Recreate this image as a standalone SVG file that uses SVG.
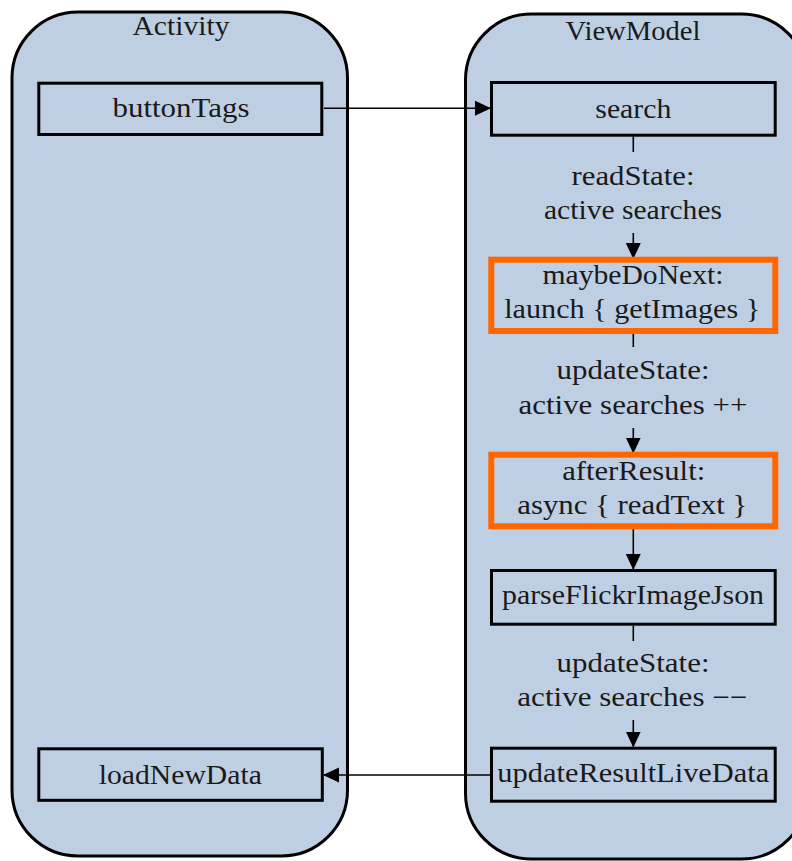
<svg xmlns="http://www.w3.org/2000/svg" width="792" height="861" viewBox="0 0 792 861">
  <style>
    .lane { fill: #BFCFE3; stroke: #000; stroke-width: 3; }
    .box { fill: none; stroke: #000; stroke-width: 3; }
    .hot { fill: none; stroke: #FF6600; stroke-width: 6; }
    .t { font-family: "Liberation Serif", "Times New Roman", serif; font-size: 27px; fill: #1a1a1a; text-anchor: middle; }
    .edge { fill: none; stroke: #000; stroke-width: 1.6; }
  </style>
  <defs>
    <marker id="arrow" viewBox="0 0 16 16" refX="15" refY="8" markerWidth="16" markerHeight="16" markerUnits="userSpaceOnUse" orient="auto">
      <path d="M0,0.5 L16,8 L0,15.5 Z" fill="#000"/>
    </marker>
  </defs>
  <rect width="792" height="861" fill="#fff"/>

  <!-- swimlanes -->
  <g id="lane-activity">
    <rect class="lane" x="12" y="12" width="335.5" height="844" rx="66" ry="66"/>
    <text class="t" x="181" y="35" textLength="97" lengthAdjust="spacingAndGlyphs">Activity</text>
  </g>
  <g id="lane-viewmodel">
    <rect class="lane" x="465.5" y="14" width="342" height="845" rx="66" ry="66"/>
    <text class="t" x="633" y="40" textLength="135" lengthAdjust="spacingAndGlyphs">ViewModel</text>
  </g>

  <!-- connectors -->
  <g id="connectors">
    <line class="edge" x1="324" y1="108.3" x2="490" y2="108.3" marker-end="url(#arrow)"/>
    <line class="edge" x1="633.3" y1="136" x2="633.3" y2="152"/>
    <line class="edge" x1="633.3" y1="233" x2="633.3" y2="258" marker-end="url(#arrow)"/>
    <line class="edge" x1="633.3" y1="334" x2="633.3" y2="347"/>
    <line class="edge" x1="633.3" y1="428" x2="633.3" y2="452.5" marker-end="url(#arrow)"/>
    <line class="edge" x1="633.3" y1="529" x2="633.3" y2="569" marker-end="url(#arrow)"/>
    <line class="edge" x1="633.3" y1="626" x2="633.3" y2="641"/>
    <line class="edge" x1="633.3" y1="720" x2="633.3" y2="746.5" marker-end="url(#arrow)"/>
    <line class="edge" x1="490" y1="775" x2="324" y2="775" marker-end="url(#arrow)"/>
    <text class="t" x="633" y="185" textLength="123" lengthAdjust="spacingAndGlyphs">readState:</text>
    <text class="t" x="633" y="218.5" textLength="178" lengthAdjust="spacingAndGlyphs">active searches</text>
    <text class="t" x="633" y="378.5" textLength="153" lengthAdjust="spacingAndGlyphs">updateState:</text>
    <text class="t" x="633" y="413.5" textLength="229" lengthAdjust="spacingAndGlyphs">active searches ++</text>
    <text class="t" x="633" y="671.5" textLength="153" lengthAdjust="spacingAndGlyphs">updateState:</text>
    <text class="t" x="632.3" y="706" textLength="230" lengthAdjust="spacingAndGlyphs">active searches −−</text>
  </g>

  <!-- nodes -->
  <g id="node-buttonTags">
    <rect class="box" x="38.8" y="83.2" width="283" height="51.3"/>
    <text class="t" x="181" y="117" textLength="137" lengthAdjust="spacingAndGlyphs">buttonTags</text>
  </g>
  <g id="node-loadNewData">
    <rect class="box" x="38.8" y="748.8" width="283.5" height="51.5"/>
    <text class="t" x="180.3" y="784" textLength="163" lengthAdjust="spacingAndGlyphs">loadNewData</text>
  </g>
  <g id="node-search">
    <rect class="box" x="491.5" y="82.5" width="283.7" height="52.7"/>
    <text class="t" x="633.3" y="118" textLength="76" lengthAdjust="spacingAndGlyphs">search</text>
  </g>
  <g id="node-maybeDoNext">
    <rect class="hot" x="491.3" y="259.7" width="284" height="71.3"/>
    <text class="t" x="633" y="284" textLength="181" lengthAdjust="spacingAndGlyphs">maybeDoNext:</text>
    <text class="t" x="632.2" y="318.3" textLength="256" lengthAdjust="spacingAndGlyphs">launch { getImages }</text>
  </g>
  <g id="node-afterResult">
    <rect class="hot" x="491.3" y="454.7" width="284" height="71.6"/>
    <text class="t" x="633.7" y="480" textLength="143" lengthAdjust="spacingAndGlyphs">afterResult:</text>
    <text class="t" x="632.3" y="514" textLength="230" lengthAdjust="spacingAndGlyphs">async { readText }</text>
  </g>
  <g id="node-parseFlickrImageJson">
    <rect class="box" x="491.5" y="570.5" width="283.7" height="53.7"/>
    <text class="t" x="633" y="604" textLength="262" lengthAdjust="spacingAndGlyphs">parseFlickrImageJson</text>
  </g>
  <g id="node-updateResultLiveData">
    <rect class="box" x="491.5" y="748.2" width="283.7" height="53"/>
    <text class="t" x="633.3" y="781.7" textLength="272" lengthAdjust="spacingAndGlyphs">updateResultLiveData</text>
  </g>
</svg>
